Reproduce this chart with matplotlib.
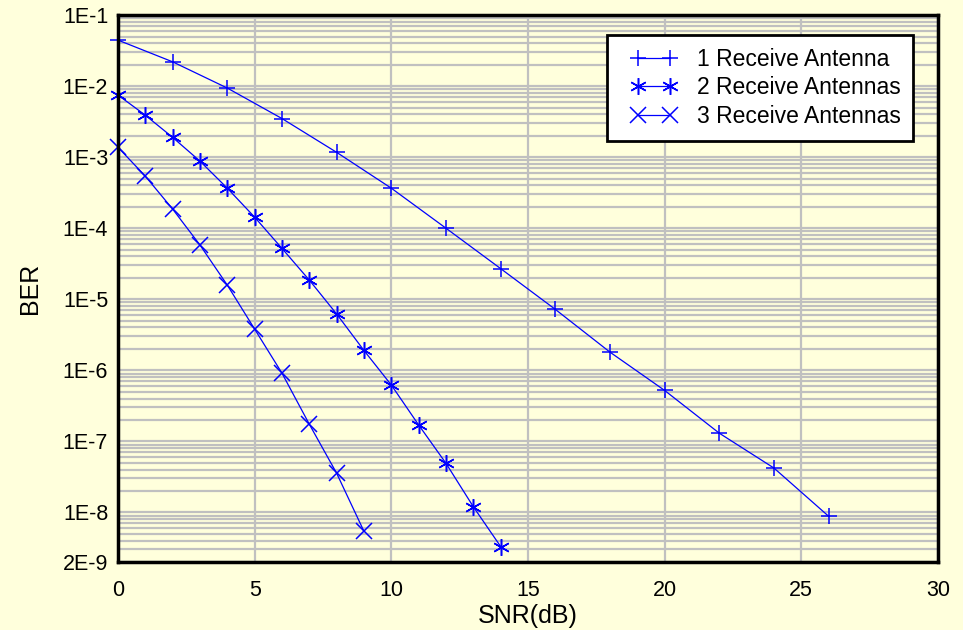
import numpy as np
import matplotlib
matplotlib.use("Agg")
import matplotlib.pyplot as plt
from matplotlib.ticker import FixedLocator, FixedFormatter, LogLocator, NullFormatter
from matplotlib.legend_handler import HandlerLine2D

# data
snr_1 = [0, 2, 4, 6, 8, 10, 12, 14, 16, 18, 20, 22, 24, 26]
ber_1 = [4.45e-2, 2.2e-2, 9.4e-3, 3.5e-3, 1.17e-3, 3.66e-4, 1.0e-4,
         2.7e-5, 7.2e-6, 1.8e-6, 5.2e-7, 1.3e-7, 4.2e-8, 8.8e-9]
snr_2 = [0, 1, 2, 3, 4, 5, 6, 7, 8, 9, 10, 11, 12, 13, 14]
ber_2 = [7.5e-3, 3.9e-3, 1.9e-3, 8.8e-4, 3.66e-4, 1.43e-4, 5.2e-5, 1.86e-5,
         6.2e-6, 1.9e-6, 6.2e-7, 1.7e-7, 4.9e-8, 1.2e-8, 3.3e-9]
snr_3 = [0, 1, 2, 3, 4, 5, 6, 7, 8, 9]
ber_3 = [1.38e-3, 5.4e-4, 1.86e-4, 5.8e-5, 1.58e-5, 3.8e-6, 9.1e-7,
         1.74e-7, 3.55e-8, 5.4e-9]
labels = ["1 Receive Antenna", "2 Receive Antennas", "3 Receive Antennas"]

yticks = [1e-1, 1e-2, 1e-3, 1e-4, 1e-5, 1e-6, 1e-7, 1e-8, 2e-9]
ytick_labels = ["1E-1", "1E-2", "1E-3", "1E-4", "1E-5", "1E-6", "1E-7", "1E-8", "2E-9"]

bg = "#FFFFDC"
blue = "#0000FF"
plt.rcParams["font.family"] = ["Liberation Sans", "DejaVu Sans"]

fig = plt.figure(figsize=(9.63, 6.3), dpi=100, facecolor=bg)
ax = fig.add_axes([0.1225, 0.108, 0.8515, 0.868])
ax.set_facecolor(bg)

ax.set_yscale("log")
ax.set_xlim(0, 30)
ax.set_ylim(2e-9, 1e-1)

# grid
ax.yaxis.set_major_locator(FixedLocator(yticks))
ax.yaxis.set_major_formatter(FixedFormatter(ytick_labels))
ax.yaxis.set_minor_locator(LogLocator(base=10, subs=np.arange(2, 10), numticks=20))
ax.yaxis.set_minor_formatter(NullFormatter())
ax.set_xticks([0, 5, 10, 15, 20, 25, 30])
ax.grid(True, which="both", axis="y", color="#C0C0C0", lw=1.6)
ax.grid(True, which="major", axis="x", color="#C0C0C0", lw=1.6)
ax.set_axisbelow(True)

ms = 11
ax.plot(snr_1, ber_1, color=blue, lw=0.9, marker="+", ms=ms, mew=1.1,
        label=labels[0], clip_on=False)
ax.plot(snr_2, ber_2, color=blue, lw=0.9, marker=(6, 2, 0), ms=ms + 1, mew=1.1,
        label=labels[1], clip_on=False)
ax.plot(snr_3, ber_3, color=blue, lw=0.9, marker="x", ms=ms, mew=1.1,
        label=labels[2], clip_on=False)

for s in ax.spines.values():
    s.set_linewidth(2.5)
    s.set_color("black")

ax.tick_params(which="both", length=0, labelsize=15.5)
ax.tick_params(axis="x", pad=13)
ax.tick_params(axis="y", pad=7)
ax.set_xlabel("SNR(dB)", fontsize=18, labelpad=2)
ax.set_ylabel("BER", fontsize=18, labelpad=15)

handler = HandlerLine2D(numpoints=2, marker_pad=0.8)
leg = ax.legend(loc="upper right", bbox_to_anchor=(913 / 963, 1 - 35 / 630),
                bbox_transform=fig.transFigure, borderaxespad=0,
                fontsize=16.5, frameon=True, fancybox=False, handlelength=3.0,
                borderpad=0.55, labelspacing=0.25, handletextpad=0.35,
                handler_map={plt.Line2D: handler})
leg.get_frame().set_edgecolor("black")
leg.get_frame().set_linewidth(2)
leg.get_frame().set_facecolor("white")
leg.get_frame().set_alpha(1)

fig.savefig("out.png", dpi=100, facecolor=bg)
